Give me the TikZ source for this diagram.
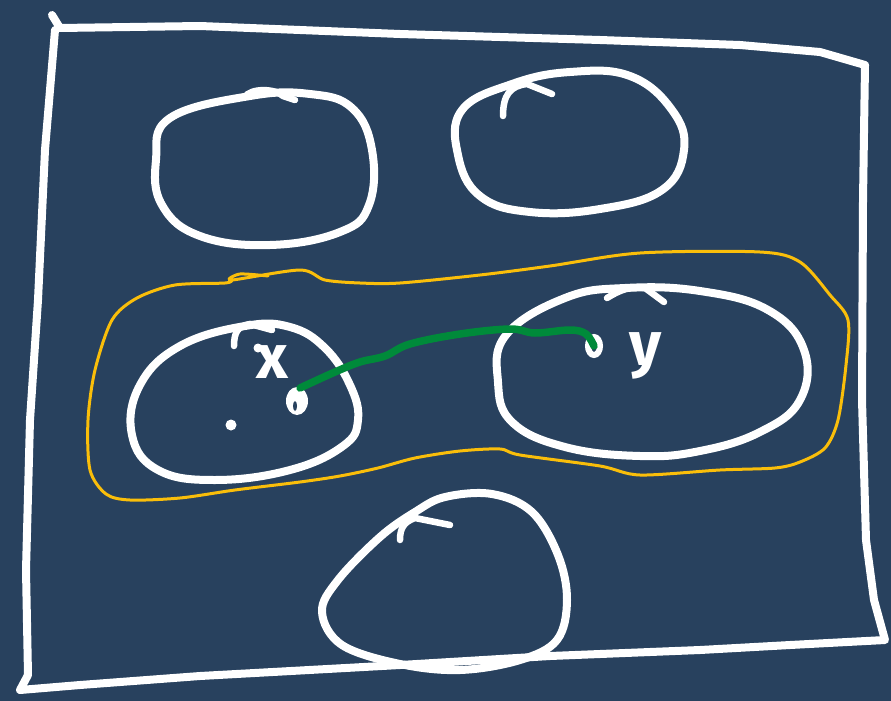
\documentclass[tikz,border=0pt]{standalone}
\usepackage{fontspec}
\setmainfont{Fira Sans}
\usetikzlibrary{calc}
\definecolor{board}{RGB}{40,65,94}
\definecolor{chalkyellow}{RGB}{250,190,10}
\definecolor{chalkgreen}{RGB}{0,138,58}
\tikzset{
  chalk/.style  = {draw=white, line width=8pt, line cap=round, line join=round},
  tick/.style   = {draw=white, line width=6.5pt, line cap=round},
  lasso/.style  = {draw=chalkyellow, line width=3pt, line cap=round, line join=round},
  link/.style   = {draw=chalkgreen, line width=7.5pt, line cap=round},
  letter/.style = {text=white, font=\fontsize{62}{62}\selectfont\bfseries, inner sep=0pt},
}

\begin{document}
\begin{tikzpicture}[x=1pt,y=-1pt]
  \useasboundingbox (0,0) rectangle (891,701);
  \fill[board] (0,0) rectangle (891,701);
  % outer frame
  \draw[chalk] (52,15) -- (60,28) -- (200,26) -- (400,34) -- (600,40) -- (740,45)
     -- (820,52) -- (865,65) -- (863,200) -- (862,400) -- (866,540) -- (874,600)
     -- (885,640) -- (790,645) -- (700,650) -- (550,656) -- (400,665) -- (200,676)
     -- (80,685) -- (20,690) -- (28,675) -- (26,570) -- (30,420) -- (38,300)
     -- (45,150) -- (55,30);
  % top left set
  \draw[chalk] plot[smooth cycle,tension=0.7] coordinates {(250,96) (310,94) (352,108)
     (372,150) (369,205) (340,232) (270,245) (200,236) (162,205) (156,160) (170,118)};
  \draw[tick] (245,97) .. controls (250,88) and (275,88) .. (283,96) -- (295,100);
  % top right set
  \draw[chalk] plot[smooth cycle,tension=0.7] coordinates {(512,84) (570,72) (630,76)
     (672,110) (684,150) (662,190) (600,209) (530,212) (480,196) (458,155) (462,110)};
  \draw[tick] (503,116) .. controls (503,95) and (510,86) .. (527,84) -- (552,94);
  % set holding x
  \draw[chalk] plot[smooth cycle,tension=0.7] coordinates {(245,326) (290,327) (325,348)
     (350,385) (358,420) (343,446) (290,470) (215,480) (158,470) (132,435) (140,385)
     (180,346)};
  \draw[tick] (234,346) .. controls (234,332) and (238,326) .. (250,324) -- (272,330);
  % set holding y
  \draw[chalk] plot[smooth cycle,tension=0.7] coordinates {(565,298) (625,288) (700,291)
     (768,310) (804,350) (800,400) (760,432) (700,451) (640,456) (565,447) (512,422)
     (498,382) (506,335)};
  \draw[tick] (607,298) .. controls (620,290) and (630,286) .. (645,288) -- (664,302);
  % bottom set
  \draw[chalk] plot[smooth cycle,tension=0.6] coordinates {(415,512) (445,497) (492,494)
     (532,512) (558,555) (567,600) (557,640) (520,660) (460,670) (400,664) (342,645)
     (322,612) (338,580) (380,537)};
  \draw[tick] (400,540) .. controls (400,528) and (404,522) .. (415,518) -- (450,525);
  % yellow lasso round both sets
  \draw[lasso] plot[smooth,tension=0.5] coordinates {(268,276) (240,274) (232,280)
     (300,270) (325,280) (360,283) (400,283) (480,275) (550,266) (640,253) (760,252)
     (800,262) (830,295) (848,320) (846,365) (838,420) (825,448) (800,462) (775,468)
     (720,470) (640,475) (600,466) (520,455) (500,449) (460,451) (415,458) (378,468)
     (340,476) (300,482) (235,490) (180,498) (130,500) (106,494) (90,470) (88,420)
     (95,370) (112,320) (137,298) (175,285) (225,283) (232,280)};
  % points and labels
  \coordinate (px) at (300,388);
  \coordinate (py) at (594,346);
  \fill[white] (258,348) circle (4.5pt);
  \fill[white] (231,425) circle (5.5pt);
  \node[letter] (lx) at (272,362) {x};
  \node[letter] (ly) at (646,356) {y};
  \fill[white] ($(px)+(-3,13)$) ellipse (11pt and 14pt);
  \fill[board] ($(px)+(-5,18)$) ellipse (2pt and 5pt);
  \draw[white,line width=6pt] (py) ellipse (6pt and 9pt);
  % path from x to y
  \draw[link] plot[smooth,tension=0.6] coordinates {(px) (335,372) (360,362) (385,356)
     (410,344) (460,334) (510,329) (535,333) (570,330) (586,334) (py)};
\end{tikzpicture}
\end{document}
